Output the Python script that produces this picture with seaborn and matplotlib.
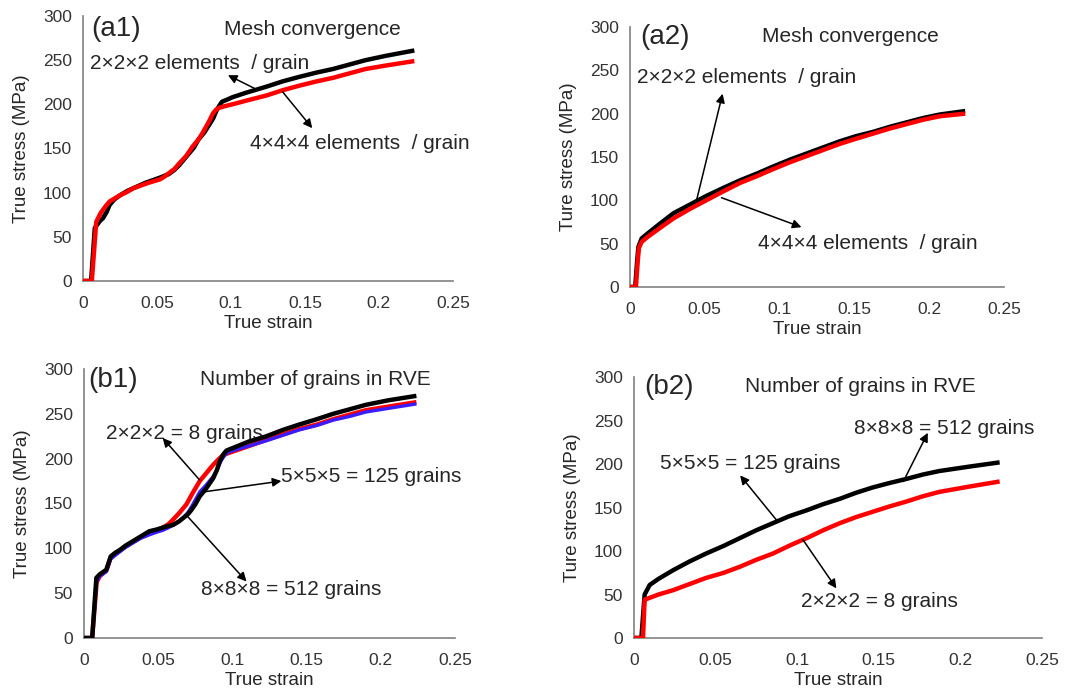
import numpy as np
import pandas as pd
import matplotlib
matplotlib.use("Agg")
import matplotlib.pyplot as plt
import seaborn as sns

# ---------------- data ----------------
# (a1) mesh convergence, case 1
a1_x_2 = [0, 0.004, 0.0055, 0.008, 0.0115, 0.0135, 0.016, 0.018, 0.021, 0.025, 0.030, 0.034, 0.038, 0.042, 0.047, 0.052, 0.058, 0.062, 0.065, 0.069, 0.072, 0.075, 0.078, 0.082, 0.085, 0.088, 0.090, 0.092, 0.094, 0.097, 0.101, 0.110, 0.124, 0.135, 0.146, 0.158, 0.169, 0.180, 0.191, 0.205, 0.224]
a1_y_2 = [0, 0, 0, 60, 68, 71, 78, 86, 92, 97, 102, 105, 108, 111, 114, 117, 121, 126, 131, 139, 145, 151, 160, 168, 176, 184, 192, 198, 203, 205, 208, 213, 220, 226, 231, 236, 240, 245, 250, 255, 261]
a1_x_4 = [0, 0.005, 0.006, 0.009, 0.012, 0.015, 0.018, 0.021, 0.025, 0.030, 0.034, 0.039, 0.044, 0.048, 0.052, 0.055, 0.058, 0.062, 0.065, 0.070, 0.074, 0.078, 0.081, 0.085, 0.088, 0.090, 0.092, 0.096, 0.101, 0.110, 0.124, 0.135, 0.146, 0.158, 0.169, 0.180, 0.191, 0.205, 0.224]
a1_y_4 = [0, 0, 0, 67, 77, 84, 90, 93, 97, 101, 105, 108, 111, 113, 115, 118, 122, 127, 133, 142, 152, 160, 168, 180, 190, 194, 196, 198, 200, 204, 210, 216, 221, 226, 230, 235, 240, 244, 249]

# (a2) mesh convergence, case 2
a2_x_2 = [0, 0.0035, 0.0048, 0.0056, 0.0078, 0.012, 0.020, 0.029, 0.040, 0.051, 0.062, 0.0735, 0.085, 0.0957, 0.107, 0.118, 0.129, 0.140, 0.151, 0.1625, 0.174, 0.185, 0.196, 0.207, 0.224]
a2_y_2 = [0, 0, 30, 46, 56, 62, 73, 85, 95, 105, 114, 123, 131, 139, 147, 154, 161, 168, 174, 179, 185, 190, 195, 199, 203]
a2_x_4 = [0, 0.004, 0.0052, 0.006, 0.0078, 0.012, 0.020, 0.029, 0.040, 0.051, 0.062, 0.0735, 0.085, 0.0957, 0.107, 0.118, 0.129, 0.140, 0.151, 0.1625, 0.174, 0.185, 0.196, 0.207, 0.224]
a2_y_4 = [0, 0, 30, 45, 52, 58, 68, 79, 90, 100, 110, 120, 128, 136, 144, 151, 158, 165, 171, 177, 183, 188, 193, 197, 200]

# (b1) number of grains, case 1
b1_x_8 = [0, 0.0045, 0.0055, 0.0085, 0.0106, 0.015, 0.018, 0.021, 0.024, 0.028, 0.033, 0.038, 0.044, 0.049, 0.053, 0.057, 0.060, 0.064, 0.069, 0.073, 0.078, 0.083, 0.087, 0.0905, 0.0937, 0.097, 0.1005, 0.111, 0.123, 0.134, 0.145, 0.157, 0.168, 0.179, 0.190, 0.205, 0.224]
b1_y_8 = [0, 0, 0, 62, 69, 75, 90, 94, 97, 102, 107, 112, 117, 120, 123, 127, 132, 139, 149, 161, 175, 185, 193, 199, 204, 206, 208, 214, 221, 227, 233, 238, 244, 249, 254, 258, 263]
b1_x_125 = [0, 0.0045, 0.0055, 0.0085, 0.0106, 0.015, 0.018, 0.021, 0.024, 0.028, 0.033, 0.038, 0.044, 0.049, 0.053, 0.057, 0.060, 0.064, 0.067, 0.070, 0.073, 0.076, 0.078, 0.082, 0.087, 0.090, 0.0925, 0.095, 0.097, 0.1005, 0.111, 0.123, 0.134, 0.145, 0.157, 0.168, 0.179, 0.190, 0.205, 0.224]
b1_y_125 = [0, 0, 0, 63, 69, 74, 88, 92, 96, 101, 106, 111, 115, 118, 120, 123, 126, 130, 134, 140, 148, 157, 163, 170, 180, 189, 198, 204, 207, 209, 214, 220, 226, 232, 237, 243, 247, 252, 256, 261]
b1_x_512 = [0, 0.0045, 0.0055, 0.0083, 0.0106, 0.015, 0.018, 0.021, 0.024, 0.028, 0.033, 0.038, 0.044, 0.049, 0.053, 0.057, 0.060, 0.064, 0.067, 0.070, 0.072, 0.075, 0.078, 0.082, 0.087, 0.0895, 0.0915, 0.094, 0.096, 0.1005, 0.111, 0.123, 0.134, 0.145, 0.157, 0.168, 0.179, 0.190, 0.205, 0.224]
b1_y_512 = [0, 0, 0, 67, 71, 76, 91, 95, 98, 103, 108, 113, 119, 121, 123, 125, 126, 130, 134, 138, 142, 149, 158, 166, 178, 187, 197, 205, 209, 212, 219, 225, 232, 238, 244, 250, 255, 260, 265, 270]

# (b2) number of grains, case 2
b2_x_8 = [0, 0.0045, 0.0055, 0.0065, 0.015, 0.024, 0.034, 0.044, 0.055, 0.065, 0.075, 0.085, 0.095, 0.101, 0.106, 0.116, 0.126, 0.136, 0.146, 0.156, 0.167, 0.177, 0.187, 0.205, 0.224]
b2_y_8 = [0, 0, 0, 44, 50, 55, 62, 69, 75, 82, 90, 97, 106, 111, 115, 124, 132, 139, 145, 151, 157, 163, 168, 174, 180]
b2_x_512 = [0, 0.0045, 0.0055, 0.0065, 0.0096, 0.015, 0.024, 0.034, 0.044, 0.055, 0.065, 0.075, 0.085, 0.095, 0.106, 0.116, 0.126, 0.136, 0.146, 0.156, 0.167, 0.177, 0.187, 0.205, 0.224]
b2_y_512 = [0, 0, 25, 50, 61, 68, 78, 88, 97, 106, 115, 124, 132, 140, 147, 154, 160, 167, 173, 178, 183, 188, 192, 197, 202]

x_ticks = [0, 0.05, 0.1, 0.15, 0.2, 0.25]
x_tick_labels = ["0", "0.05", "0.1", "0.15", "0.2", "0.25"]
y_ticks = [0, 50, 100, 150, 200, 250, 300]

# ---------------- style ----------------
sns.set_style("white")
plt.rcParams['font.family'] = ['Liberation Sans', 'DejaVu Sans']

fig = plt.figure(figsize=(10.69, 6.9), dpi=100)
ax_a1 = fig.add_axes([0.0776, 0.5928, 0.346, 0.384])
ax_a2 = fig.add_axes([0.5893, 0.5841, 0.350, 0.3768])
ax_b1 = fig.add_axes([0.0786, 0.0754, 0.347, 0.3899])
ax_b2 = fig.add_axes([0.5931, 0.0754, 0.3817, 0.378])

LW = 3.2

def draw(ax, x, y, color, lw=LW, z=2):
    df = pd.DataFrame({"x": x, "y": y})
    sns.lineplot(data=df, x="x", y="y", ax=ax, color=color, lw=lw,
                 sort=False, estimator=None, zorder=z,
                 solid_capstyle="butt", solid_joinstyle="round")

def style(ax, ylabel):
    ax.set_xlim(0, 0.25)
    ax.set_ylim(0, 300)
    ax.set_xticks(x_ticks)
    ax.set_xticklabels(x_tick_labels)
    ax.set_yticks(y_ticks)
    ax.tick_params(length=0, labelsize=12.5, labelcolor="#333333")
    ax.tick_params(axis="x", pad=11)
    ax.tick_params(axis="y", pad=8)
    for s in ["top", "right"]:
        ax.spines[s].set_visible(False)
    for s in ["left", "bottom"]:
        ax.spines[s].set_color("#808080")
        ax.spines[s].set_linewidth(1.2)
    ax.set_xlabel("True strain", fontsize=13.5, labelpad=3)
    ax.set_ylabel(ylabel, fontsize=13.5, labelpad=9)

def arrow(ax, tail, head):
    ax.annotate("", xy=head, xytext=tail,
                arrowprops=dict(arrowstyle="-|>", color="black", lw=1.1,
                                mutation_scale=13, shrinkA=0, shrinkB=0),
                zorder=5)

TXT = 15
PANEL = 20

# (a1)
draw(ax_a1, a1_x_2, a1_y_2, "black")
draw(ax_a1, a1_x_4, a1_y_4, "#ff0000", z=3)
style(ax_a1, "True stress (MPa)")
ax_a1.text(0.0056, 285, "(a1)", fontsize=PANEL, va="center")
ax_a1.text(0.155, 285, "Mesh convergence", fontsize=TXT, ha="center", va="center")
ax_a1.text(0.0045, 246, "2×2×2 elements  / grain", fontsize=TXT, va="center")
ax_a1.text(0.1126, 156, "4×4×4 elements  / grain", fontsize=TXT, va="center")
arrow(ax_a1, (0.116, 218), (0.098, 233))
arrow(ax_a1, (0.135, 214), (0.155, 173))

# (a2)
draw(ax_a2, a2_x_2, a2_y_2, "black")
draw(ax_a2, a2_x_4, a2_y_4, "#ff0000", z=3)
style(ax_a2, "Ture stress (MPa)")
ax_a2.text(0.0067, 288, "(a2)", fontsize=PANEL, va="center")
ax_a2.text(0.147, 289, "Mesh convergence", fontsize=TXT, ha="center", va="center")
ax_a2.text(0.0045, 242, "2×2×2 elements  / grain", fontsize=TXT, va="center")
ax_a2.text(0.0857, 50, "4×4×4 elements  / grain", fontsize=TXT, va="center")
arrow(ax_a2, (0.0445, 100), (0.0619, 223))
arrow(ax_a2, (0.0612, 103), (0.1146, 69))

# (b1)
draw(ax_b1, b1_x_8, b1_y_8, "#ff0000", z=2)
draw(ax_b1, b1_x_125, b1_y_125, "#3a1cff", lw=2.4, z=3)
draw(ax_b1, b1_x_512, b1_y_512, "black", z=4)
style(ax_b1, "True stress (MPa)")
ax_b1.text(0.0027, 288, "(b1)", fontsize=PANEL, va="center")
ax_b1.text(0.156, 288, "Number of grains in RVE", fontsize=TXT, ha="center", va="center")
ax_b1.text(0.0146, 228, "2×2×2 = 8 grains", fontsize=TXT, va="center")
ax_b1.text(0.133, 180, "5×5×5 = 125 grains", fontsize=TXT, va="center")
ax_b1.text(0.079, 54, "8×8×8 = 512 grains", fontsize=TXT, va="center")
arrow(ax_b1, (0.078, 176), (0.053, 223))
arrow(ax_b1, (0.081, 163), (0.133, 175))
arrow(ax_b1, (0.069, 137), (0.1095, 63))

# (b2)
draw(ax_b2, b2_x_8, b2_y_8, "#ff0000", z=3)
draw(ax_b2, b2_x_512, b2_y_512, "black", z=2)
style(ax_b2, "Ture stress (MPa)")
ax_b2.text(0.006, 289, "(b2)", fontsize=PANEL, va="center")
ax_b2.text(0.1385, 289, "Number of grains in RVE", fontsize=TXT, ha="center", va="center")
ax_b2.text(0.135, 241, "8×8×8 = 512 grains", fontsize=TXT, va="center")
ax_b2.text(0.016, 201, "5×5×5 = 125 grains", fontsize=TXT, va="center")
ax_b2.text(0.1025, 42, "2×2×2 = 8 grains", fontsize=TXT, va="center")
arrow(ax_b2, (0.165, 180), (0.180, 236))
arrow(ax_b2, (0.088, 134), (0.065, 187))
arrow(ax_b2, (0.1035, 113), (0.124, 57))

fig.savefig("out.png", dpi=100)
